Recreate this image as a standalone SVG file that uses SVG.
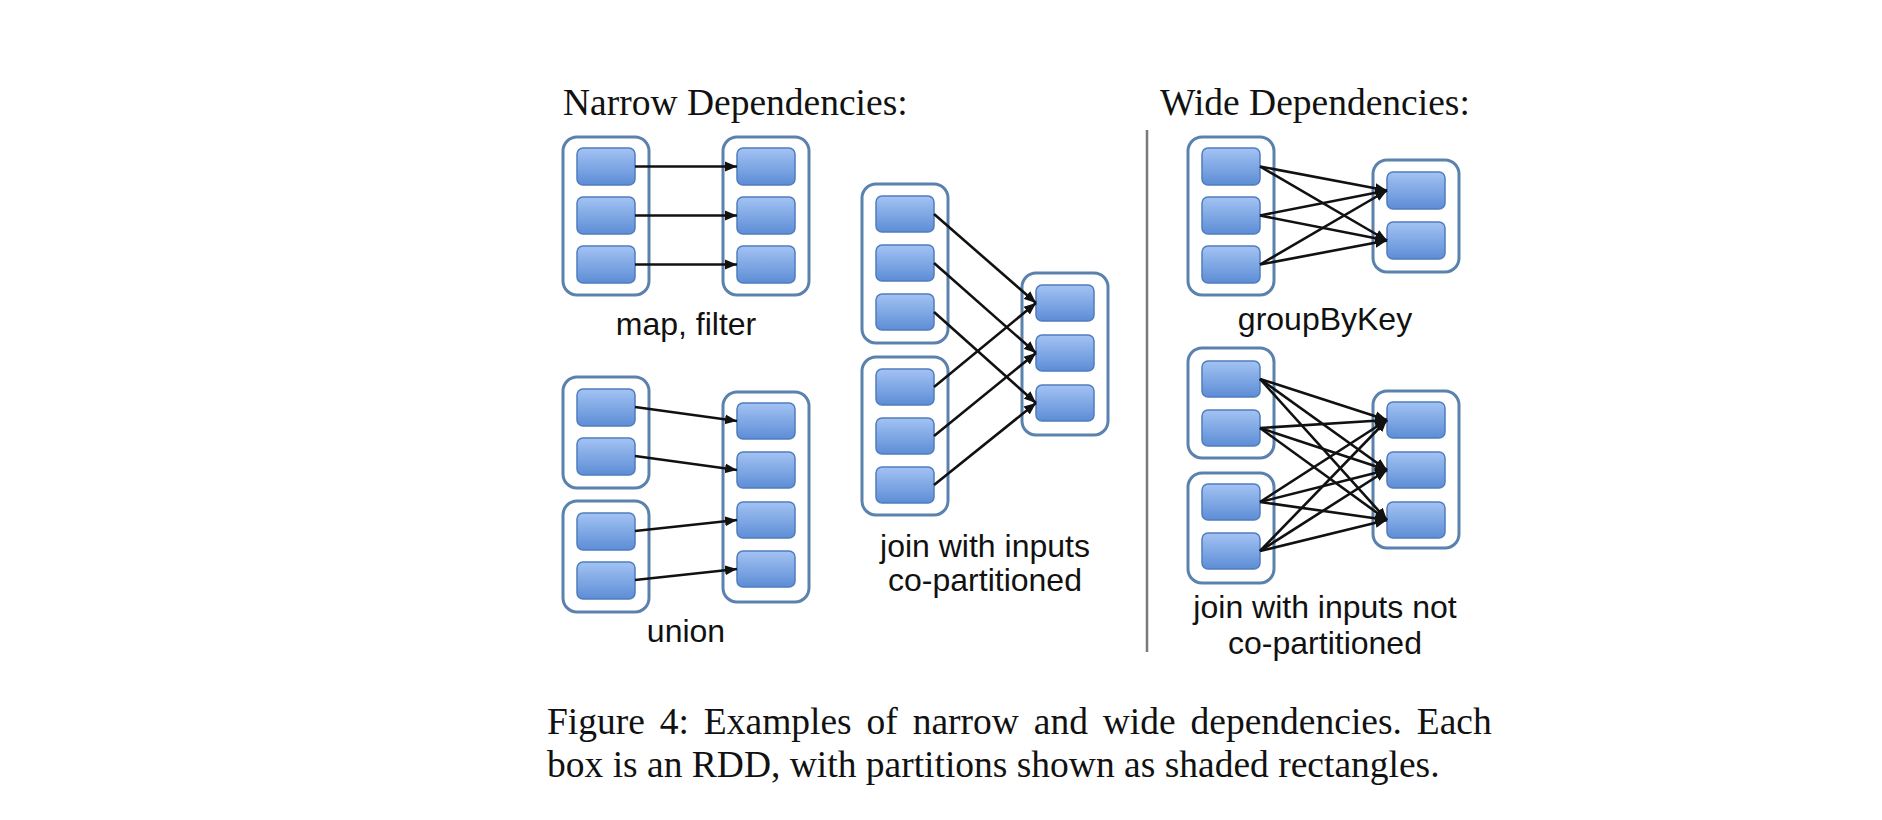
<svg xmlns="http://www.w3.org/2000/svg" width="1882" height="820" viewBox="0 0 1882 820">
<style>
.rdd{fill:#fff;stroke:#5a82ad;stroke-width:3}
.p{fill:url(#pg);stroke:#4f7dbd;stroke-width:1.5}
.e{stroke:#111;stroke-width:2.6;fill:none;marker-end:url(#ah)}
.title{font-family:"Liberation Serif","Times New Roman",serif;font-size:37.5px;fill:#111}
.lbl{font-family:"Liberation Sans",Arial,sans-serif;font-size:32px;fill:#111;text-anchor:middle}
.cap{font-family:"Liberation Serif","Times New Roman",serif;font-size:37.5px;fill:#111}
</style>
<defs>
<linearGradient id="pg" x1="0" y1="0" x2="0" y2="1">
<stop offset="0" stop-color="#a3c3f3"/>
<stop offset="1" stop-color="#5d8dd6"/>
</linearGradient>
<marker id="ah" markerUnits="userSpaceOnUse" markerWidth="13" markerHeight="11" refX="12" refY="5.5" orient="auto">
<path d="M0,0.5 L12,5.5 L0,10.5 z" fill="#111"/>
</marker>
</defs>
<rect width="1882" height="820" fill="#fff"/>

<text class="title" x="563" y="115">Narrow Dependencies:</text>
<text class="title" x="1160" y="115">Wide Dependencies:</text>
<line x1="1147" y1="130" x2="1147" y2="652" stroke="#7a7a7a" stroke-width="2.5"/>

<!-- map, filter -->
<g id="map-src">
<rect class="rdd" x="563" y="137" width="86" height="158" rx="14"/>
<rect class="p" x="577" y="148" width="58" height="37" rx="6"/>
<rect class="p" x="577" y="197" width="58" height="37" rx="6"/>
<rect class="p" x="577" y="246" width="58" height="37" rx="6"/>
</g>
<g id="map-dst">
<rect class="rdd" x="723" y="137" width="86" height="158" rx="14"/>
<rect class="p" x="737" y="148" width="58" height="37" rx="6"/>
<rect class="p" x="737" y="197" width="58" height="37" rx="6"/>
<rect class="p" x="737" y="246" width="58" height="37" rx="6"/>
</g>
<text class="lbl" x="686" y="335">map, filter</text>

<!-- union -->
<g id="union-src1">
<rect class="rdd" x="563" y="377" width="86" height="111" rx="14"/>
<rect class="p" x="577" y="389" width="58" height="37" rx="6"/>
<rect class="p" x="577" y="438" width="58" height="37" rx="6"/>
</g>
<g id="union-src2">
<rect class="rdd" x="563" y="501" width="86" height="111" rx="14"/>
<rect class="p" x="577" y="513" width="58" height="37" rx="6"/>
<rect class="p" x="577" y="562" width="58" height="37" rx="6"/>
</g>
<g id="union-dst">
<rect class="rdd" x="723" y="392" width="86" height="210" rx="14"/>
<rect class="p" x="737" y="403" width="58" height="36" rx="6"/>
<rect class="p" x="737" y="452" width="58" height="36" rx="6"/>
<rect class="p" x="737" y="502" width="58" height="36" rx="6"/>
<rect class="p" x="737" y="551" width="58" height="36" rx="6"/>
</g>
<text class="lbl" x="686" y="642">union</text>

<!-- join co-partitioned -->
<g id="join-src1">
<rect class="rdd" x="862" y="184" width="86" height="159" rx="14"/>
<rect class="p" x="876" y="196" width="58" height="36" rx="6"/>
<rect class="p" x="876" y="245" width="58" height="36" rx="6"/>
<rect class="p" x="876" y="294" width="58" height="36" rx="6"/>
</g>
<g id="join-src2">
<rect class="rdd" x="862" y="357" width="86" height="158" rx="14"/>
<rect class="p" x="876" y="369" width="58" height="36" rx="6"/>
<rect class="p" x="876" y="418" width="58" height="36" rx="6"/>
<rect class="p" x="876" y="467" width="58" height="36" rx="6"/>
</g>
<g id="join-dst">
<rect class="rdd" x="1022" y="273" width="86" height="162" rx="14"/>
<rect class="p" x="1036" y="285" width="58" height="36" rx="6"/>
<rect class="p" x="1036" y="335" width="58" height="36" rx="6"/>
<rect class="p" x="1036" y="385" width="58" height="36" rx="6"/>
</g>
<text class="lbl" x="985" y="557">join with inputs</text>
<text class="lbl" x="985" y="591">co-partitioned</text>

<!-- groupByKey -->
<g id="gbk-src">
<rect class="rdd" x="1188" y="137" width="86" height="158" rx="14"/>
<rect class="p" x="1202" y="148" width="58" height="37" rx="6"/>
<rect class="p" x="1202" y="197" width="58" height="37" rx="6"/>
<rect class="p" x="1202" y="246" width="58" height="37" rx="6"/>
</g>
<g id="gbk-dst">
<rect class="rdd" x="1373" y="160" width="86" height="112" rx="14"/>
<rect class="p" x="1387" y="172" width="58" height="37" rx="6"/>
<rect class="p" x="1387" y="222" width="58" height="37" rx="6"/>
</g>
<text class="lbl" x="1325" y="330">groupByKey</text>

<!-- join not co-partitioned -->
<g id="wjoin-src1">
<rect class="rdd" x="1188" y="348" width="86" height="110" rx="14"/>
<rect class="p" x="1202" y="361" width="58" height="36" rx="6"/>
<rect class="p" x="1202" y="410" width="58" height="36" rx="6"/>
</g>
<g id="wjoin-src2">
<rect class="rdd" x="1188" y="473" width="86" height="110" rx="14"/>
<rect class="p" x="1202" y="484" width="58" height="36" rx="6"/>
<rect class="p" x="1202" y="533" width="58" height="36" rx="6"/>
</g>
<g id="wjoin-dst">
<rect class="rdd" x="1373" y="391" width="86" height="157" rx="14"/>
<rect class="p" x="1387" y="402" width="58" height="36" rx="6"/>
<rect class="p" x="1387" y="452" width="58" height="36" rx="6"/>
<rect class="p" x="1387" y="502" width="58" height="36" rx="6"/>
</g>
<text class="lbl" x="1325" y="618">join with inputs not</text>
<text class="lbl" x="1325" y="654">co-partitioned</text>

<g id="connectors">
<!-- map -->
<line class="e" x1="635" y1="166.5" x2="737" y2="166.5"/>
<line class="e" x1="635" y1="215.5" x2="737" y2="215.5"/>
<line class="e" x1="635" y1="264.5" x2="737" y2="264.5"/>
<!-- union -->
<line class="e" x1="635" y1="407" x2="737" y2="421"/>
<line class="e" x1="635" y1="456" x2="737" y2="470"/>
<line class="e" x1="635" y1="531" x2="737" y2="520"/>
<line class="e" x1="635" y1="580" x2="737" y2="569"/>
<!-- join co-partitioned -->
<line class="e" x1="934" y1="214" x2="1036" y2="303"/>
<line class="e" x1="934" y1="263" x2="1036" y2="353"/>
<line class="e" x1="934" y1="312" x2="1036" y2="403"/>
<line class="e" x1="934" y1="387" x2="1036" y2="303"/>
<line class="e" x1="934" y1="436" x2="1036" y2="353"/>
<line class="e" x1="934" y1="485" x2="1036" y2="403"/>
<!-- groupByKey -->
<line class="e" x1="1260" y1="166.5" x2="1387" y2="190.5"/>
<line class="e" x1="1260" y1="166.5" x2="1387" y2="240.5"/>
<line class="e" x1="1260" y1="215.5" x2="1387" y2="190.5"/>
<line class="e" x1="1260" y1="215.5" x2="1387" y2="240.5"/>
<line class="e" x1="1260" y1="264.5" x2="1387" y2="190.5"/>
<line class="e" x1="1260" y1="264.5" x2="1387" y2="240.5"/>
<!-- join not co-partitioned -->
<line class="e" x1="1260" y1="379" x2="1387" y2="420"/>
<line class="e" x1="1260" y1="379" x2="1387" y2="470"/>
<line class="e" x1="1260" y1="379" x2="1387" y2="520"/>
<line class="e" x1="1260" y1="428" x2="1387" y2="420"/>
<line class="e" x1="1260" y1="428" x2="1387" y2="470"/>
<line class="e" x1="1260" y1="428" x2="1387" y2="520"/>
<line class="e" x1="1260" y1="502" x2="1387" y2="420"/>
<line class="e" x1="1260" y1="502" x2="1387" y2="470"/>
<line class="e" x1="1260" y1="502" x2="1387" y2="520"/>
<line class="e" x1="1260" y1="551" x2="1387" y2="420"/>
<line class="e" x1="1260" y1="551" x2="1387" y2="470"/>
<line class="e" x1="1260" y1="551" x2="1387" y2="520"/>
</g>

<text class="cap" x="547" y="734" word-spacing="5.5">Figure 4: Examples of narrow and wide dependencies. Each</text>
<text class="cap" x="547" y="777">box is an RDD, with partitions shown as shaded rectangles.</text>
</svg>
